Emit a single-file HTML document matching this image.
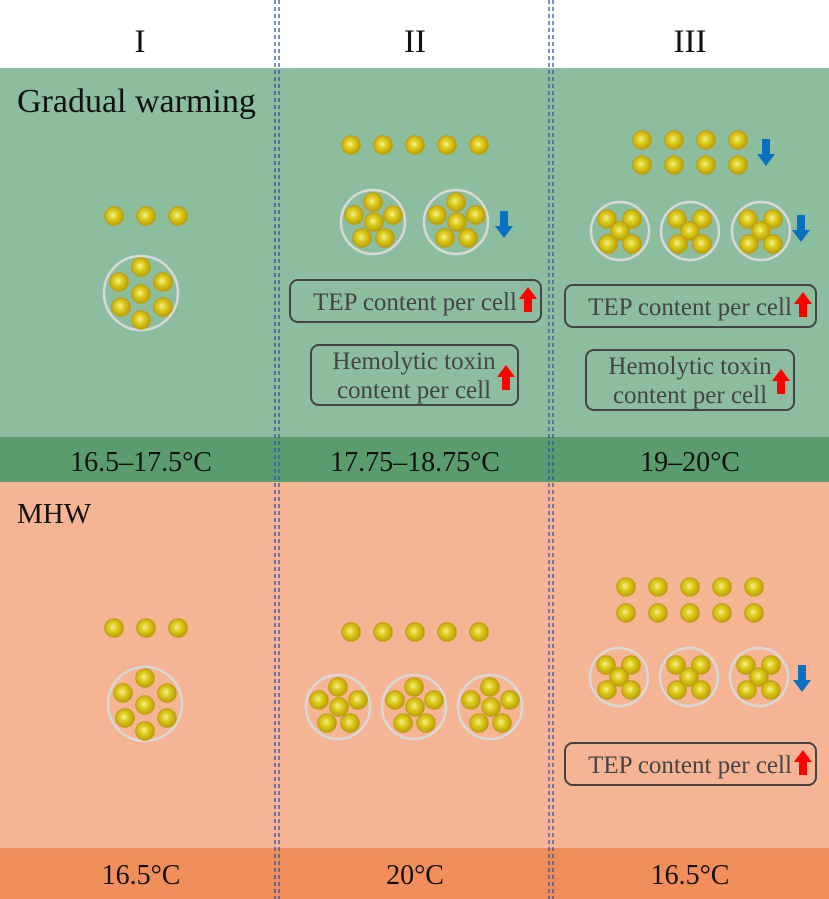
<!DOCTYPE html><html><head><meta charset="utf-8"><style>body{margin:0}svg{display:block}text{font-family:"Liberation Serif",serif}</style></head><body>
<svg width="829" height="899" viewBox="0 0 829 899">
<defs>
<radialGradient id="g" cx="0.45" cy="0.45" r="0.6"><stop offset="0" stop-color="#f4f0a0"/><stop offset="0.35" stop-color="#e0d020"/><stop offset="1" stop-color="#b39a00"/></radialGradient>
<g id="c"><circle r="9.3" fill="url(#g)" stroke="#c29a10" stroke-width="1"/></g>
<g id="c7"><circle r="37" fill="none" stroke="#d8d8d8" stroke-width="2.5"/><use href="#c" x="0" y="-26"/><use href="#c" x="-22" y="-11"/><use href="#c" x="22" y="-11"/><use href="#c" x="0" y="1"/><use href="#c" x="-20" y="14"/><use href="#c" x="22" y="14"/><use href="#c" x="0" y="27"/></g>
<g id="c6"><circle r="32" fill="none" stroke="#d8d8d8" stroke-width="2.5"/><use href="#c" x="0" y="-20"/><use href="#c" x="-19" y="-7"/><use href="#c" x="20" y="-7"/><use href="#c" x="1" y="0"/><use href="#c" x="-11" y="16"/><use href="#c" x="12" y="16"/></g>
<g id="c5"><circle r="29" fill="none" stroke="#d8d8d8" stroke-width="2.5"/><use href="#c" x="-13" y="-12"/><use href="#c" x="12" y="-12"/><use href="#c" x="0" y="0"/><use href="#c" x="-12" y="13"/><use href="#c" x="12" y="13"/></g>
<g id="bd"><rect x="-4" y="-15" width="8" height="16" fill="#0a70c0"/><polygon points="-9,0 9,0 0,12" fill="#0a70c0"/></g>
<g id="ru"><rect x="-4" y="-2" width="8" height="14" fill="#f00"/><polygon points="-9,-1 9,-1 0,-13" fill="#f00"/></g>
</defs>
<rect width="829" height="899" fill="#fff"/>
<rect y="68" width="829" height="369" fill="#8dbd9f"/>
<rect y="437" width="829" height="45" fill="#5b9c6e"/>
<rect y="482" width="829" height="366" fill="#f5b594"/>
<rect y="848" width="829" height="51" fill="#f18f5c"/>
<g stroke="#3050a0" stroke-width="1.3" stroke-dasharray="4,3"><line x1="275" y1="0" x2="275" y2="899"/><line x1="279" y1="0" x2="279" y2="899"/><line x1="549" y1="0" x2="549" y2="899"/><line x1="553" y1="0" x2="553" y2="899"/></g>
<g font-size="33" text-anchor="middle" fill="#111"><text x="140" y="52">I</text><text x="415" y="52">II</text><text x="690" y="52">III</text></g>
<text x="17" y="112" font-size="34" fill="#111">Gradual warming</text>
<text x="17" y="523" font-size="29" fill="#111">MHW</text>
<g font-size="28" text-anchor="middle" fill="#111"><text x="141" y="471">16.5–17.5°C</text><text x="415" y="471">17.75–18.75°C</text><text x="690" y="471">19–20°C</text><text x="141" y="884">16.5°C</text><text x="415" y="884">20°C</text><text x="690" y="884">16.5°C</text></g>
<use href="#c" x="114" y="216"/><use href="#c" x="146" y="216"/><use href="#c" x="178" y="216"/>
<use href="#c7" x="141" y="293"/>
<use href="#c" x="351" y="145"/><use href="#c" x="383" y="145"/><use href="#c" x="415" y="145"/><use href="#c" x="447" y="145"/><use href="#c" x="479" y="145"/>
<use href="#c6" x="373" y="222"/><use href="#c6" x="456" y="222"/><use href="#bd" x="504" y="226"/>
<g fill="none" stroke="#444" stroke-width="2"><rect x="290" y="280" width="251" height="42" rx="8"/><rect x="311" y="345" width="207" height="60" rx="8"/><rect x="565" y="285" width="251" height="42" rx="8"/><rect x="586" y="350" width="208" height="60" rx="8"/><rect x="565" y="743" width="251" height="42" rx="8"/></g>
<g font-size="25" fill="#444" text-anchor="middle"><text x="415" y="310">TEP content per cell</text><text x="414" y="369">Hemolytic toxin</text><text x="414" y="398">content per cell</text><text x="690" y="315">TEP content per cell</text><text x="690" y="374">Hemolytic toxin</text><text x="690" y="403">content per cell</text><text x="690" y="773">TEP content per cell</text></g>
<use href="#ru" x="528" y="300"/><use href="#ru" x="506" y="378"/><use href="#ru" x="803" y="305"/><use href="#ru" x="781" y="382"/><use href="#ru" x="803" y="763"/>
<use href="#c" x="642" y="140"/><use href="#c" x="674" y="140"/><use href="#c" x="706" y="140"/><use href="#c" x="738" y="140"/>
<use href="#c" x="642" y="165"/><use href="#c" x="674" y="165"/><use href="#c" x="706" y="165"/><use href="#c" x="738" y="165"/>
<use href="#bd" x="766" y="154"/>
<use href="#c5" x="620" y="231"/><use href="#c5" x="690" y="231"/><use href="#c5" x="761" y="231"/><use href="#bd" x="801" y="230"/>
<use href="#c" x="114" y="628"/><use href="#c" x="146" y="628"/><use href="#c" x="178" y="628"/>
<use href="#c7" x="145" y="704"/>
<use href="#c" x="351" y="632"/><use href="#c" x="383" y="632"/><use href="#c" x="415" y="632"/><use href="#c" x="447" y="632"/><use href="#c" x="479" y="632"/>
<use href="#c6" x="338" y="707"/><use href="#c6" x="414" y="707"/><use href="#c6" x="490" y="707"/>
<use href="#c" x="626" y="587"/><use href="#c" x="658" y="587"/><use href="#c" x="690" y="587"/><use href="#c" x="722" y="587"/><use href="#c" x="754" y="587"/>
<use href="#c" x="626" y="613"/><use href="#c" x="658" y="613"/><use href="#c" x="690" y="613"/><use href="#c" x="722" y="613"/><use href="#c" x="754" y="613"/>
<use href="#c5" x="619" y="677"/><use href="#c5" x="689" y="677"/><use href="#c5" x="759" y="677"/><use href="#bd" x="802" y="680"/>
</svg></body></html>
